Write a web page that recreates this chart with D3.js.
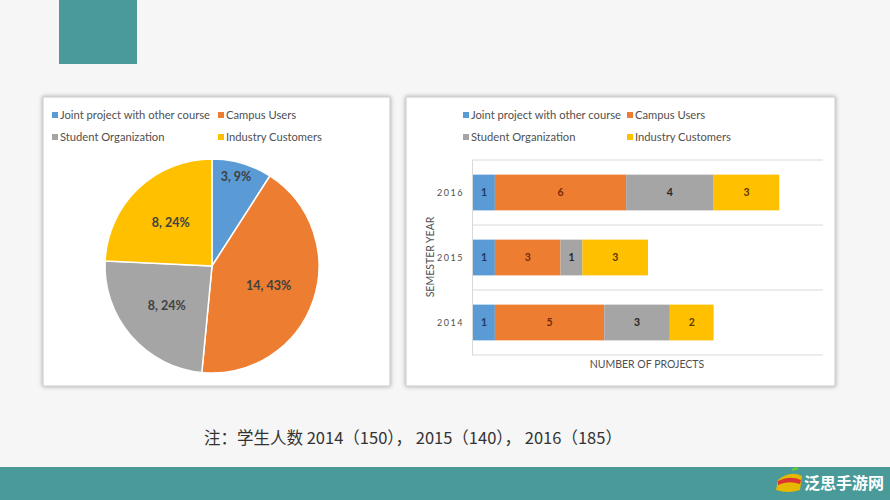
<!DOCTYPE html>
<html><head><meta charset="utf-8">
<script src="https://cdn.jsdelivr.net/npm/d3@7/dist/d3.min.js"></script>
<style>
html,body{margin:0;padding:0;background:#f6f6f6;}
svg{display:block;}
</style></head>
<body>
<svg id="c" width="890" height="500"></svg>
<script>
const categories = ["Joint project with other course","Campus Users","Student Organization","Industry Customers"];
const colors = ["#5b9bd5","#ed7d31","#a5a5a5","#ffc000"];
const labelColors = ["#1f3864","#7a2a0a","#262626","#5a3a00"];
const pieValues = [3,14,8,8];
const pieLabels = ["3, 9%","14, 43%","8, 24%","8, 24%"];
const years = ["2016","2015","2014"];
const joint = [1,1,1];
const campus = [6,3,5];
const student = [4,1,3];
const industry = [3,3,2];
const xMax = 16;
const note = "注：学生人数 2014（150）， 2015（140）， 2016（185）";

const svg = d3.select("#c");
const font = "Lato, 'Open Sans', sans-serif";

// background decorations
svg.append("rect").attr("x",0).attr("y",0).attr("width",890).attr("height",500).attr("fill","#f6f6f6");
svg.append("rect").attr("x",59).attr("y",0).attr("width",78).attr("height",64).attr("fill","#4a9a99");
svg.append("rect").attr("x",0).attr("y",467).attr("width",890).attr("height",33).attr("fill","#4a9a99");

const defs = svg.append("defs");
const f = defs.append("filter").attr("id","sh").attr("x","-5%").attr("y","-5%").attr("width","110%").attr("height","110%");
f.append("feDropShadow").attr("dx",0).attr("dy",0).attr("stdDeviation",2).attr("flood-color","#000").attr("flood-opacity",0.35);

function panel(x,y,w,h){
  svg.append("rect").attr("x",x).attr("y",y).attr("width",w).attr("height",h)
    .attr("fill","#fff").attr("stroke","#c8c8c8").attr("stroke-width",1).attr("filter","url(#sh)");
}
panel(43,97,347,289);
panel(406,97,429,289);

function legend(x0,x1,y0,y1){
  const pos = [[x0,y0],[x1,y0],[x0,y1],[x1,y1]];
  categories.forEach((c,i)=>{
    const g = svg.append("g").attr("transform",`translate(${pos[i][0]},${pos[i][1]})`);
    g.append("rect").attr("x",0).attr("y",-3).attr("width",6).attr("height",6).attr("fill",colors[i]);
    g.append("text").attr("x",8).attr("y",0).attr("dy","0.35em").attr("font-family",font)
      .attr("font-size",11.2).attr("fill","#505050").text(c);
  });
}
legend(52,218,115,137);
legend(463,627,115,137);

// pie
const cx=212, cy=266, r=107;
const pie = d3.pie().sort(null).value(d=>d)(pieValues);
const arc = d3.arc().innerRadius(0).outerRadius(r);
const lArc = d3.arc().innerRadius(r*0.56).outerRadius(r*0.56);
const pg = svg.append("g").attr("transform",`translate(${cx},${cy})`);
pg.selectAll("path").data(pie).join("path").attr("d",arc)
  .attr("fill",(d,i)=>colors[i]).attr("stroke","#fff").attr("stroke-width",1.5);
pg.selectAll("text").data(pie).join("text")
  .attr("x",(d,i)=>i===0?24:lArc.centroid(d)[0])
  .attr("y",(d,i)=>i===0?-89:lArc.centroid(d)[1])
  .attr("text-anchor","middle").attr("dy","0.35em")
  .attr("font-family",font).attr("font-weight","bold").attr("font-size",12.5).attr("fill","#404040")
  .text((d,i)=>pieLabels[i]);

// stacked bar
const series = [joint,campus,student,industry];
const rows = years.map((y,i)=>({year:y, vals:series.map(s=>s[i])}));
const x = d3.scaleLinear().domain([0,xMax]).range([473,823]);
const yb = d3.scaleBand().domain(years).range([160,355]).paddingInner(0.45).paddingOuter(0.225);
const yGrid = d3.scaleBand().domain(years).range([160,355]);

const gg = svg.append("g");
[160].concat(years.map(y=>yGrid(y)+yGrid.bandwidth())).forEach(v=>{
  gg.append("line").attr("x1",472).attr("x2",823).attr("y1",v).attr("y2",v).attr("stroke","#d9d9d9");
});
gg.append("line").attr("x1",472.5).attr("x2",472.5).attr("y1",160).attr("y2",355).attr("stroke","#d9d9d9");

rows.forEach(row=>{
  let acc=0;
  row.vals.forEach((v,i)=>{
    const x0=x(acc), x1=x(acc+v);
    svg.append("rect").attr("x",x0).attr("y",yb(row.year)).attr("width",x1-x0).attr("height",yb.bandwidth())
      .attr("fill",colors[i]);
    svg.append("text").attr("x",(x0+x1)/2).attr("y",yb(row.year)+yb.bandwidth()/2).attr("dy","0.35em")
      .attr("text-anchor","middle").attr("font-family",font).attr("font-weight","bold").attr("font-size",10.5)
      .attr("fill",labelColors[i]).text(v);
    acc+=v;
  });
  svg.append("text").attr("x",464).attr("y",yb(row.year)+yb.bandwidth()/2).attr("dy","0.35em")
    .attr("text-anchor","end").attr("font-family",font).attr("font-size",9).attr("letter-spacing",1.5)
    .attr("fill","#505050").text(row.year);
});
svg.append("text").attr("transform","translate(430,257) rotate(-90)").attr("text-anchor","middle")
  .attr("dy","0.35em").attr("font-family",font).attr("font-size",10.5).attr("fill","#505050").text("SEMESTER YEAR");
svg.append("text").attr("x",647).attr("y",364).attr("text-anchor","middle").attr("dy","0.35em")
  .attr("font-family",font).attr("font-size",10.5).attr("fill","#505050").text("NUMBER OF PROJECTS");

// note
svg.append("text").attr("x",204).attr("y",438).attr("dy","0.35em")
  .attr("font-family","'Noto Sans CJK SC', sans-serif").attr("font-size",16.5).attr("fill","#333").text(note);

// watermark
const wm = svg.append("g").attr("transform","translate(778,484)");
wm.append("path").attr("d","M0,-4 Q12,-14 24,-8 L22,6 Q10,10 -2,6 Z").attr("fill","#e6b800");
wm.append("path").attr("d","M0,-3 Q12,-9 23,-4 L22,0 Q10,-4 0,1 Z").attr("fill","#d33");
wm.append("path").attr("d","M13,-14 Q17,-18 21,-16 Q17,-12 13,-14 Z").attr("fill","#6c3");
wm.append("text").attr("x",26).attr("y",-1).attr("dy","0.35em").attr("font-family","'Noto Sans CJK SC', sans-serif")
  .attr("font-weight","bold").attr("font-size",16).attr("fill","#fff").text("泛思手游网");
</script>
</body></html>
